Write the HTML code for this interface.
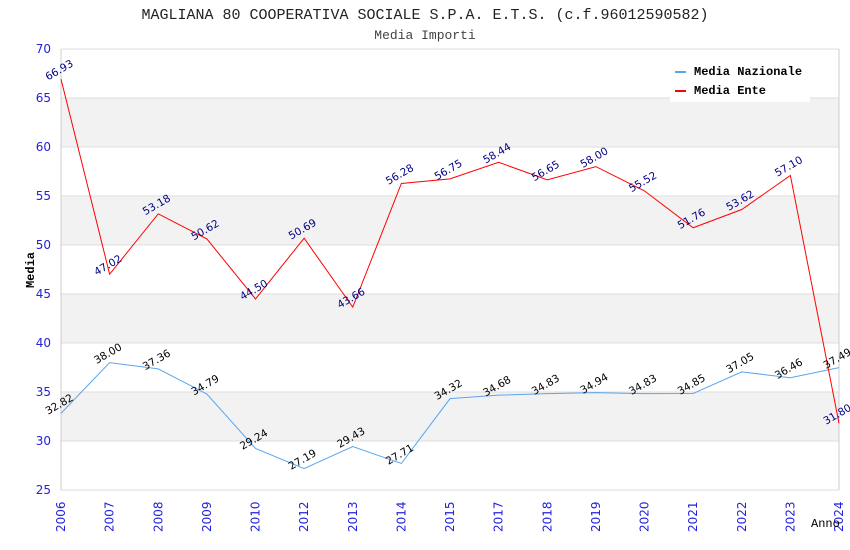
<!DOCTYPE html>
<html><head><meta charset="utf-8"><style>
body{margin:0;background:#fff;}
svg{display:block;font-family:"DejaVu Sans","Liberation Sans",sans-serif;}
</style></head><body>
<svg id="chart" width="850" height="550" xmlns="http://www.w3.org/2000/svg">
<text x="425" y="19" text-anchor="middle" font-family="Liberation Mono, monospace" font-size="15" fill="#222">MAGLIANA 80 COOPERATIVA SOCIALE S.P.A. E.T.S. (c.f.96012590582)</text>
<text x="425" y="39" text-anchor="middle" font-family="Liberation Mono, monospace" font-size="13" fill="#444">Media Importi</text>
<g id="bands"></g><g id="grid"></g><g id="axes"></g><g id="series"></g><g id="labels"></g>
<text x="34" y="270" transform="rotate(-90 34 270)" text-anchor="middle" font-family="Liberation Mono, monospace" font-size="12" font-weight="bold" fill="#000">Media</text>
<text x="811" y="527" font-family="Liberation Mono, monospace" font-size="12" fill="#000">Anno</text>
<g>
<rect x="670" y="60" width="140" height="42" fill="#fff"/>
<rect x="675" y="71" width="11" height="2" fill="#5aa5ee"/>
<text x="694" y="75" font-family="Liberation Mono, monospace" font-size="12" font-weight="bold">Media Nazionale</text>
<rect x="675" y="90" width="11" height="2" fill="#f00"/>
<text x="694" y="94" font-family="Liberation Mono, monospace" font-size="12" font-weight="bold">Media Ente</text>
</g>
</svg>
<script>
const categories=["2006","2007","2008","2009","2010","2012","2013","2014","2015","2017","2018","2019","2020","2021","2022","2023","2024"];
const mediaNazionale=[32.82,38.00,37.36,34.79,29.24,27.19,29.43,27.71,34.32,34.68,34.83,34.94,34.83,34.85,37.05,36.46,37.49];
const mediaEnte=[66.93,47.02,53.18,50.62,44.50,50.69,43.66,56.28,56.75,58.44,56.65,58.00,55.52,51.76,53.62,57.10,31.80];
const yTicks=[25,30,35,40,45,50,55,60,65,70];
const NS="http://www.w3.org/2000/svg";
const L=61,R=839,T=49,B=490,yMin=25,yMax=70;
const xs=i=>L+i*(R-L)/(categories.length-1);
const ys=v=>B-(v-yMin)/(yMax-yMin)*(B-T);
function mk(tag,attrs,parent){const e=document.createElementNS(NS,tag);for(const k in attrs)e.setAttribute(k,attrs[k]);document.getElementById(parent).appendChild(e);return e;}
for(let i=0;i<yTicks.length-1;i++){
  const y1=ys(yTicks[i+1]),y0=ys(yTicks[i]);
  const r=mk('rect',{x:L,y:y1,width:R-L,height:y0-y1,fill:(i%2===1)?'#f2f2f2':'#fff'},'bands');
  
  
}
yTicks.forEach(t=>{
  const l=mk('line',{x1:L,x2:R,y1:ys(t),y2:ys(t),stroke:'#ddd','stroke-width':1},'grid');
  
  
  const tx=mk('text',{x:L-10,y:ys(t)+4,'text-anchor':'end','font-size':12,fill:'#2222dd'},'axes');
  tx.textContent=t;
  
  
});
[L,R].forEach(x=>{const l=mk('line',{x1:x,x2:x,y1:T,y2:B,stroke:'#ccc'},'axes');
  
  });
categories.forEach((c,i)=>{
  const x=xs(i)+4,y=B+42;
  const tx=mk('text',{x:x,y:y,transform:`rotate(-90 ${x} ${y})`,'text-anchor':'start','font-size':12,fill:'#2222dd'},'axes');
  tx.textContent=c;
  
  
});
function drawSeries(vals,color,lc,name){
  const p=mk('polyline',{points:vals.map((v,i)=>xs(i)+','+ys(v)).join(' '),fill:'none',stroke:color,'stroke-width':1},'series');
  
  
  vals.forEach((v,i)=>{
    const x=xs(i),y=ys(v)-6;
    const t=mk('text',{x:x,y:y,'text-anchor':'middle','font-size':10.5,fill:lc,transform:`rotate(-30 ${x} ${y})`},'labels');
    t.textContent=v.toFixed(2);
    
    
  });
}
drawSeries(mediaNazionale,'#5aa5ee','#000','media-nazionale');
drawSeries(mediaEnte,'#f00','#000080','media-ente');
</script>
</body></html>
